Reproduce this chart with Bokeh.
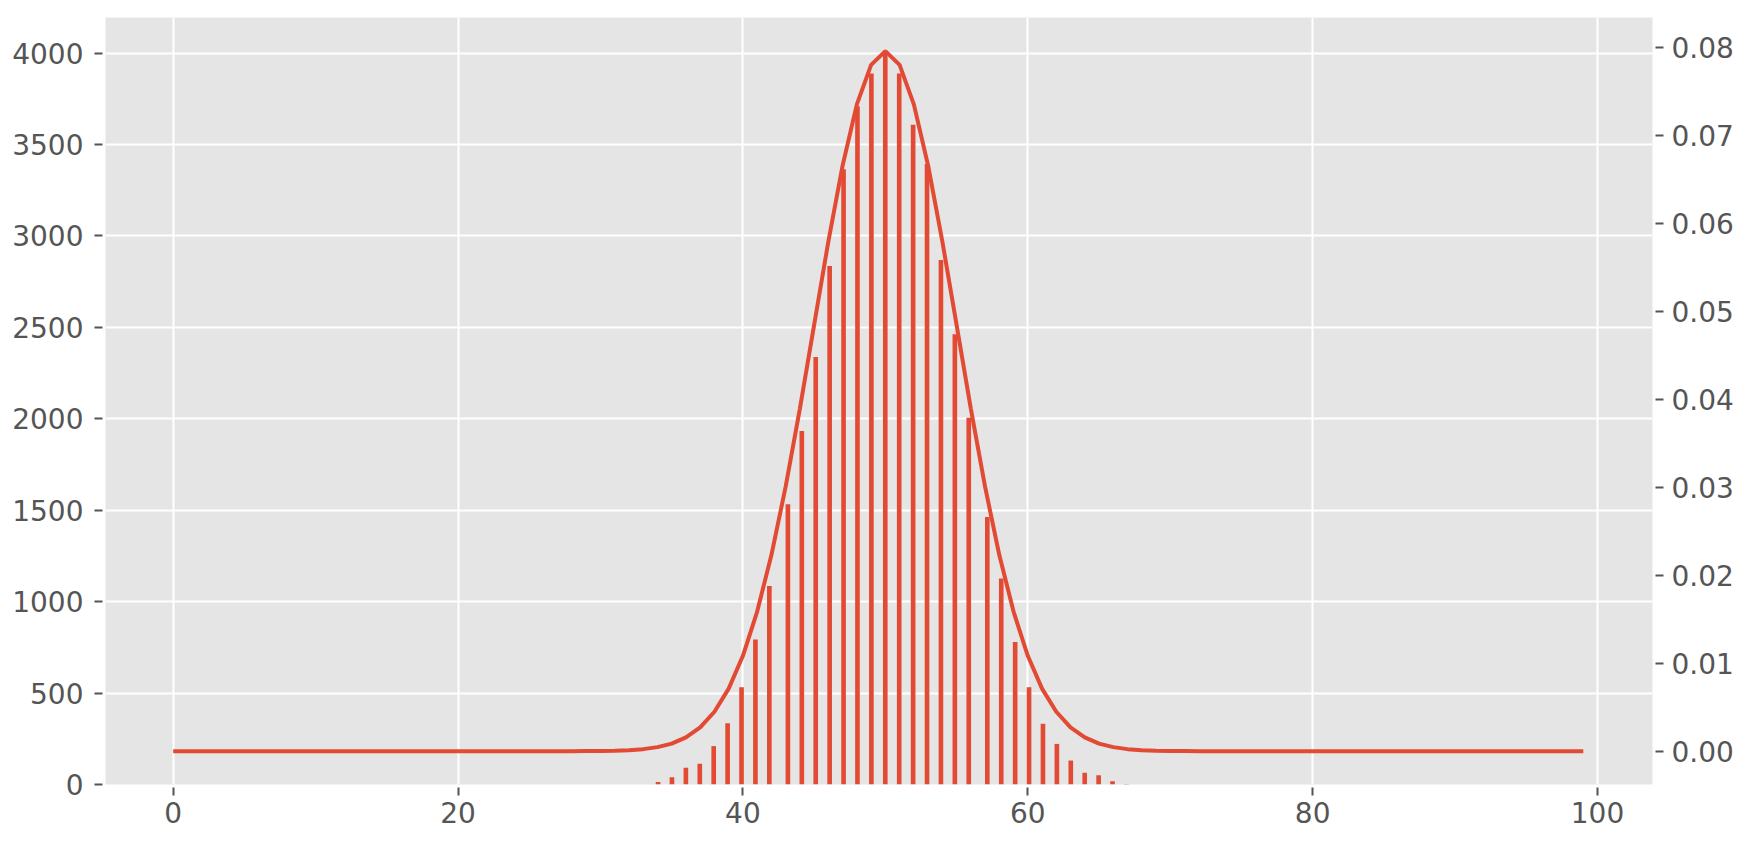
import numpy as np
from bokeh.plotting import figure
from bokeh.models import Range1d, LinearAxis, FixedTicker, NumeralTickFormatter
from bokeh.embed import file_html
from bokeh.resources import INLINE

# ---- data ----
bin_values = [34, 35, 36, 37, 38, 39, 40, 41, 42, 43, 44, 45, 46, 47, 48, 49, 50,
              51, 52, 53, 54, 55, 56, 57, 58, 59, 60, 61, 62, 63, 64, 65, 66, 67]
bin_counts = [13, 40, 91, 113, 210, 335, 532, 793, 1085, 1532, 1933, 2338, 2836, 3365,
              3710, 3888, 3995, 3888, 3608, 3393, 2869, 2462, 2006, 1463, 1127, 780,
              532, 332, 222, 131, 64, 51, 18, 3]
hist_bin_width = 0.3256
hist_bin_origin = 42.995

pmf_x = list(range(100))
pmf_y = ([0.0] * 29 +
         [0.00001, 0.00002, 0.00005, 0.00011, 0.00023, 0.00046, 0.00086, 0.00157,
          0.00271, 0.00448, 0.00711, 0.01084, 0.01587, 0.02229, 0.03007, 0.03895,
          0.04847, 0.05796, 0.06659, 0.07353, 0.07803, 0.07959, 0.07803, 0.07353,
          0.06659, 0.05796, 0.04847, 0.03895, 0.03007, 0.02229, 0.01587, 0.01084,
          0.00711, 0.00448, 0.00271, 0.00157, 0.00086, 0.00046, 0.00023, 0.00011,
          0.00005, 0.00002, 0.00001] +
         [0.0] * 28)

x_ticks = [0, 20, 40, 60, 80, 100]
left_ticks = [0, 500, 1000, 1500, 2000, 2500, 3000, 3500, 4000]
right_ticks = [0.0, 0.01, 0.02, 0.03, 0.04, 0.05, 0.06, 0.07, 0.08]

# ---- histogram bins (each integer value falls in a bin of the regular grid) ----
v = np.array(bin_values, dtype=float)
lefts = v - np.mod(v - hist_bin_origin, hist_bin_width)
rights = lefts + hist_bin_width

RED = "#E24A33"
GREY = "#555555"
FONT = "DejaVu Sans"
FS = "28px"

p = figure(frame_width=1547, frame_height=767,
           x_range=Range1d(-4.753, 103.86), y_range=Range1d(0, 4194.7),
           output_backend="svg", toolbar_location=None,
           min_border_left=105, min_border_right=100, min_border_top=17, min_border_bottom=60)
p.background_fill_color = "#E5E5E5"
p.border_fill_color = "white"
p.outline_line_color = None

p.xgrid.ticker = FixedTicker(ticks=x_ticks)
p.ygrid.ticker = FixedTicker(ticks=left_ticks)
for g in (p.xgrid, p.ygrid):
    g.grid_line_color = "white"
    g.grid_line_width = 2

p.quad(left=lefts, right=rights, bottom=0, top=bin_counts,
       fill_color=RED, line_color=None)

p.extra_y_ranges = {"pmf": Range1d(-0.00379, 0.08341)}
raxis = LinearAxis(y_range_name="pmf")
p.add_layout(raxis, "right")

p.line(pmf_x, pmf_y, y_range_name="pmf", line_color=RED, line_width=4)

p.xaxis.ticker = FixedTicker(ticks=x_ticks)
p.yaxis[0].ticker = FixedTicker(ticks=left_ticks)
raxis.ticker = FixedTicker(ticks=right_ticks)
raxis.formatter = NumeralTickFormatter(format="0.00")

for ax in [p.xaxis[0], p.yaxis[0], raxis]:
    ax.axis_line_color = None
    ax.major_tick_line_color = GREY
    ax.major_tick_line_width = 2
    ax.major_tick_in = -3
    ax.major_tick_out = 11
    ax.minor_tick_line_color = None
    ax.major_label_text_color = GREY
    ax.major_label_text_font = FONT
    ax.major_label_text_font_size = FS
    ax.major_label_standoff = 11
p.xaxis[0].major_label_standoff = 6
raxis.major_label_standoff = 8

open("out.html", "w").write(file_html(p, INLINE))
